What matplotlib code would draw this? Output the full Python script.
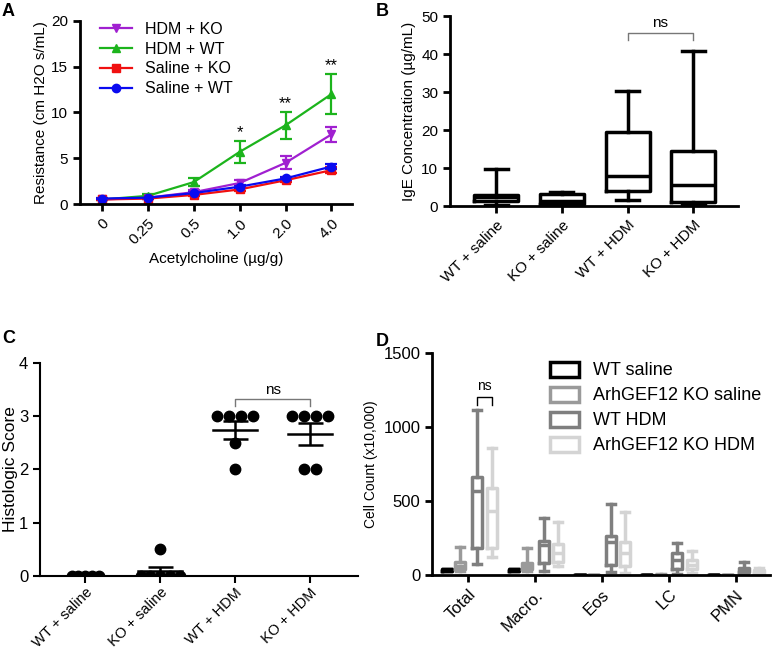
import numpy as np
import matplotlib.pyplot as plt
from matplotlib.patches import Patch
from matplotlib.lines import Line2D

plt.rcParams['font.family'] = ['Liberation Sans', 'DejaVu Sans']

# panel A data
doses = ['0', '0.25', '0.5', '1.0', '2.0', '4.0']
hdm_ko = [0.5, 0.7, 1.3, 2.3, 4.5, 7.6]
hdm_ko_err = [0.1, 0.1, 0.2, 0.35, 0.7, 0.8]
hdm_wt = [0.5, 0.9, 2.4, 5.7, 8.6, 12.0]
hdm_wt_err = [0.1, 0.15, 0.4, 1.2, 1.5, 2.2]
sal_ko = [0.5, 0.6, 1.0, 1.6, 2.6, 3.7]
sal_ko_err = [0.1, 0.1, 0.1, 0.15, 0.2, 0.3]
sal_wt = [0.6, 0.7, 1.2, 1.9, 2.8, 4.1]
sal_wt_err = [0.1, 0.1, 0.1, 0.15, 0.2, 0.3]
stars = {3: '*', 4: '**', 5: '**'}

# panel B data (whislo, q1, med, q3, whishi)
groups = ['WT + saline', 'KO + saline', 'WT + HDM', 'KO + HDM']
ige = [[0.3, 1.2, 2.3, 2.9, 9.7],
       [0.3, 0.5, 1.2, 3.3, 3.8],
       [1.5, 4.0, 8.0, 19.4, 30.4],
       [0.3, 1.0, 5.5, 14.6, 40.8]]

# panel C data
histo = [[0, 0, 0, 0, 0],
         [0, 0, 0, 0, 0, 0.5],
         [3, 3, 3, 3, 2.5, 2],
         [3, 3, 3, 3, 2, 2]]
swarm_step = [0.09, 0.13, 0.16, 0.16]

# panel D data
cell_types = ['Total', 'Macro.', 'Eos', 'LC', 'PMN']
series_d = ['WT saline', 'ArhGEF12 KO saline', 'WT HDM', 'ArhGEF12 KO HDM']
colors_d = ['#000000', '#9a9a9a', '#7f7f7f', '#d4d4d4']
cells = {
    'WT saline': [[25, 30, 35, 38, 42], [25, 30, 35, 38, 42], [0, 0, 0, 0, 1],
                  [0, 1, 1, 2, 3], [0, 0, 1, 1, 2]],
    'ArhGEF12 KO saline': [[30, 40, 60, 90, 190], [30, 40, 60, 80, 185], [0, 0, 0, 1, 2],
                           [0, 1, 2, 3, 5], [0, 1, 1, 2, 3]],
    'WT HDM': [[75, 180, 570, 660, 1115], [30, 80, 200, 230, 385], [20, 70, 220, 265, 480],
               [10, 40, 100, 150, 215], [5, 20, 40, 50, 85]],
    'ArhGEF12 KO HDM': [[120, 180, 430, 590, 860], [60, 90, 150, 210, 355], [15, 60, 150, 220, 425],
                        [15, 40, 70, 100, 160], [5, 15, 25, 35, 50]],
}
offsets_d = [-0.32, -0.12, 0.13, 0.35]


def stats(vals):
    return dict(whislo=vals[0], q1=vals[1], med=vals[2], q3=vals[3], whishi=vals[4])


def style(ax, lw=2):
    for s in ['top', 'right']:
        ax.spines[s].set_visible(False)
    for s in ['left', 'bottom']:
        ax.spines[s].set_linewidth(lw)
    ax.tick_params(width=lw, length=5, labelsize=11)


fig = plt.figure(figsize=(7.72, 6.52), dpi=100)

# ---- A
ax = fig.add_axes([0.1036, 0.687, 0.353, 0.281])
x = np.arange(len(doses))
handles = []
for y, e, c, m, lab in [(hdm_ko, hdm_ko_err, '#a020d0', 'v', 'HDM + KO'),
                        (hdm_wt, hdm_wt_err, '#1cb41c', '^', 'HDM + WT'),
                        (sal_ko, sal_ko_err, '#f01010', 's', 'Saline + KO'),
                        (sal_wt, sal_wt_err, '#0a0af0', 'o', 'Saline + WT')]:
    ax.errorbar(x, y, yerr=e, color=c, marker=m, ms=6, lw=1.6, capsize=4, capthick=1.6)
    handles.append(Line2D([], [], color=c, marker=m, ms=6, lw=1.6, label=lab))
for i, s in stars.items():
    ax.text(x[i], hdm_wt[i] + hdm_wt_err[i] + 0.05, s, ha='center', va='bottom', fontsize=12)
ax.set_xlim(-0.48, 5.46)
ax.set_ylim(0, 20)
ax.set_xticks(x)
ax.set_xticklabels(doses, rotation=45, ha='right', rotation_mode='anchor')
ax.set_yticks([0, 5, 10, 15, 20])
ax.set_xlabel('Acetylcholine (µg/g)', fontsize=11)
ax.set_ylabel('Resistance (cm H2O s/mL)', fontsize=11, labelpad=2)
style(ax)
ax.legend(handles=handles, loc='upper left', bbox_to_anchor=(0.05, 1.03), frameon=False,
          fontsize=11.5, handlelength=2, labelspacing=0.3, borderaxespad=0)

# ---- B
ax = fig.add_axes([0.583, 0.684, 0.373, 0.291])
ax.bxp([stats(v) for v in ige], positions=range(4), widths=0.67, capwidths=0.35,
       showfliers=False,
       boxprops=dict(lw=2.5, color='black'), whiskerprops=dict(lw=2.5),
       capprops=dict(lw=2.5), medianprops=dict(lw=2.5, color='black'))
ax.plot([2, 2, 3, 3], [43.8, 45.6, 45.6, 43.8], color='#777777', lw=1)
ax.text(2.5, 46.5, 'ns', ha='center', va='bottom', fontsize=11)
ax.set_xlim(-0.7, 3.68)
ax.set_ylim(0, 50)
ax.set_xticks(range(4))
ax.set_xticklabels(groups, rotation=45, ha='right', rotation_mode='anchor')
ax.set_ylabel('IgE Concentration (µg/mL)', fontsize=11)
style(ax)

# ---- C
ax = fig.add_axes([0.052, 0.117, 0.412, 0.326])
for i, vals in enumerate(histo):
    vals = np.array(vals)
    for v in np.unique(vals):
        n = np.sum(vals == v)
        xs = i + (np.arange(n) - (n - 1) / 2) * swarm_step[i]
        ax.plot(xs, [v] * n, 'o', color='black', ms=7.5, zorder=3)
    mean = vals.mean()
    sem = vals.std(ddof=1) / np.sqrt(len(vals))
    ax.plot([i - 0.29, i + 0.29], [mean, mean], color='black', lw=1.8, zorder=4)
    ax.errorbar(i, mean, yerr=sem, color='black', lw=1.8, capsize=9, capthick=1.8, zorder=4)
ax.plot([2, 2, 3, 3], [3.2, 3.32, 3.32, 3.2], color='#777777', lw=1)
ax.text(2.5, 3.36, 'ns', ha='center', va='bottom', fontsize=11)
ax.set_xlim(-0.6, 3.64)
ax.set_ylim(0, 4)
ax.set_yticks([0, 1, 2, 3, 4])
ax.set_xticks(range(4))
ax.set_xticklabels(groups, rotation=45, ha='right', rotation_mode='anchor')
ax.set_ylabel('Histologic Score', fontsize=12.5, labelpad=1)
style(ax, lw=1.5)
ax.tick_params(labelsize=12)
ax.tick_params(axis='x', labelsize=10.5, pad=2)

# ---- D
ax = fig.add_axes([0.560, 0.118, 0.438, 0.341])
xc = np.arange(len(cell_types))
for k, name in enumerate(series_d):
    ax.bxp([stats(v) for v in cells[name]], positions=xc + offsets_d[k], widths=0.15,
           capwidths=0.12, showfliers=False, manage_ticks=False,
           boxprops=dict(lw=2.5, color=colors_d[k]), whiskerprops=dict(lw=2.5, color=colors_d[k]),
           capprops=dict(lw=2.5, color=colors_d[k]), medianprops=dict(lw=2.5, color=colors_d[k]))
ax.plot([offsets_d[2], offsets_d[2], offsets_d[3], offsets_d[3]], [1150, 1200, 1200, 1150],
        color='black', lw=1)
ax.text((offsets_d[2] + offsets_d[3]) / 2, 1230, 'ns', ha='center', va='bottom', fontsize=10)
ax.set_xlim(-0.535, 4.52)
ax.set_ylim(0, 1500)
ax.set_yticks([0, 500, 1000, 1500])
ax.set_xticks(xc)
ax.set_xticklabels(cell_types, rotation=45, ha='right', rotation_mode='anchor')
ax.set_ylabel('Cell Count (x10,000)', fontsize=10, labelpad=4)
style(ax)
ax.tick_params(labelsize=12)
handles = [Patch(facecolor='white', edgecolor=c, lw=2.5) for c in colors_d]
ax.legend(handles, series_d, loc='upper right', bbox_to_anchor=(1.0, 1.0), frameon=False,
          fontsize=13, handlelength=1.6, handleheight=0.9, labelspacing=0.4, borderaxespad=0.1)

for t, px, py in [('A', 2, 3), ('B', 376, 3), ('C', 2, 330), ('D', 376, 333)]:
    fig.text(px / 772, 1 - py / 652, t, fontsize=13, fontweight='bold', va='top', ha='left')

fig.savefig('out.png', dpi=100)
